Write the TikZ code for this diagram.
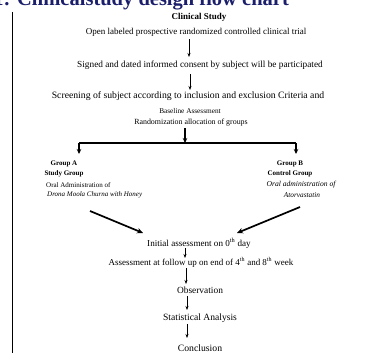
\documentclass[tikz,border=0pt]{standalone}
\usepackage{fontspec}
\setmainfont{Liberation Serif}
\usetikzlibrary{arrows.meta}
\definecolor{titleblue}{HTML}{1B1F6B}
\newcommand{\fsz}[1]{\fontsize{#1}{#1}\selectfont}
\tikzset{
  txt/.style={inner sep=0pt, font=\fsz{9}},
  btxt/.style={inner sep=0pt, font=\fsz{7}\bfseries},
  itxt/.style={inner sep=0pt, font=\fsz{7.3}\itshape},
  thinarr/.style={line width=0.6pt, -{Stealth[length=4pt,width=3pt]}},
  thickarr/.style={line width=1.2pt, -{Stealth[length=5pt,width=4.5pt]}},
  bigarr/.style={line width=1.7pt, -{Stealth[length=6pt,width=5.5pt]}},
}
\begin{document}
\begin{tikzpicture}[x=1pt,y=-1pt]
\useasboundingbox (0,0) rectangle (379,353);
\fill[white] (0,0) rectangle (379,353);
% cropped title
\node[anchor=base west, inner sep=0pt, text=titleblue, font=\fsz{20.5}\bfseries] (title) at (17,6) {\llap{Fig. 1: }Clinicalstudy design flow chart};
% left rule
\coordinate (ltop) at (12.7,12);
\coordinate (lbot) at (12.7,353);
\draw[line width=1pt] (ltop) -- (lbot);

\node[btxt, font=\fsz{9}\bfseries] (study) at (199,17) {Clinical Study};
\node[txt] (open) at (196,32) {Open labeled prospective randomized controlled clinical trial};
\node[txt, font=\fsz{9.3}] (signed) at (200,65) {Signed and dated informed consent by subject will be participated};
\node[txt, font=\fsz{9.7}] (screen) at (188,96) {Screening of subject according to inclusion and exclusion Criteria and};
\node[txt, font=\fsz{7.3}] (base) at (190,111.5) {Baseline Assessment};
\node[txt, font=\fsz{7.9}] (rand) at (191,122.5) {Randomization allocation of groups};

\draw[thinarr] (open.south -| 189,0) ++(0,3) -- (189,57);
\draw[thinarr] (signed.south -| 190,0) ++(0,5) -- (190,90);

\coordinate (split) at (185,143);
\coordinate (ja) at (79,143);
\coordinate (jb) at (296,143);
\draw[thickarr] (rand.south -| split) ++(0,2) -- (split);
\draw[line width=1.2pt] (ja) -- (jb);
\draw[thickarr] (ja) -- (79,154);
\draw[thickarr] (jb) -- (296,154);

\node[btxt] (ga1) at (64,164) {Group A};
\node[btxt] (ga2) at (64,174) {Study Group};
\node[txt, font=\fsz{7}, anchor=west] (ga3) at (46,185) {Oral Administration of};
\node[itxt, font=\fsz{7}\itshape, anchor=west] (ga4) at (47,195) {Drona Moola Churna with Honey};

\node[btxt] (gb1) at (290,164) {Group B};
\node[btxt] (gb2) at (290,174) {Control Group};
\node[itxt, font=\fsz{7.6}\itshape] (gb3) at (301,185) {Oral administration of};
\node[itxt] (gb4) at (302,195) {Atorvastatin};

\node[txt, font=\fsz{9.1}] (init) at (199,243) {Initial assessment on 0\textsuperscript{th} day};
\node[txt] (assess) at (201,262) {Assessment at follow up on end of 4\textsuperscript{th} and 8\textsuperscript{th} week};
\node[txt, font=\fsz{9.4}] (obs) at (200,290) {Observation};
\node[txt, font=\fsz{9.6}] (stat) at (200,318) {Statistical Analysis};
\node[txt, font=\fsz{9.7}] (concl) at (200,348) {Conclusion};

\draw[bigarr] (90,211) -- (143,233);
\draw[bigarr] (300,207) -- (237,233);

\draw[thinarr] (185,248) -- (185,258);
\draw[thinarr] (186,268) -- (186,284);
\draw[thinarr] (187,296) -- (187,310);
\draw[thinarr] (187,324) -- (187,338);
\end{tikzpicture}
\end{document}
